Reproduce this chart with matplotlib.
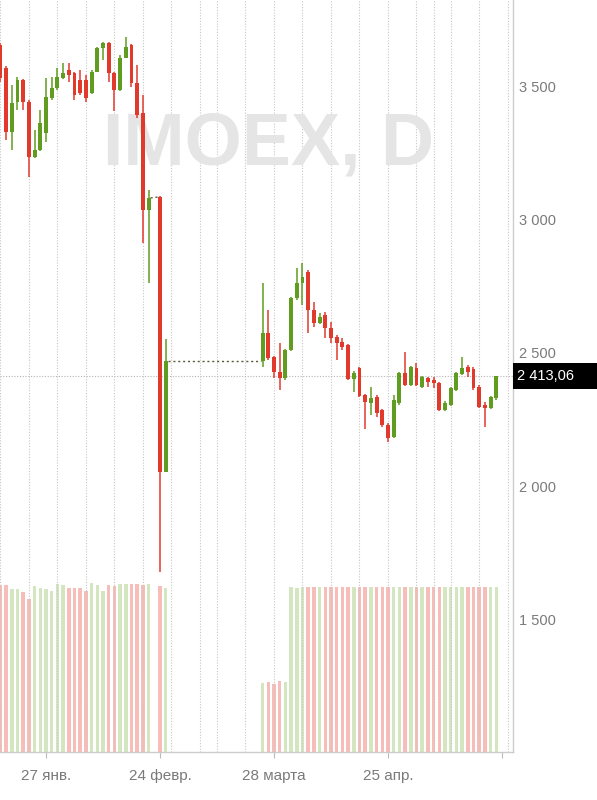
import numpy as np
import pandas as pd
import matplotlib
matplotlib.use("Agg")
import matplotlib.pyplot as plt
from matplotlib.transforms import blended_transform_factory
from matplotlib.patches import Rectangle

plt.rcParams['font.family'] = ['Liberation Sans', 'DejaVu Sans']

## Data: IMOEX daily candles
# exchange calendar: weekdays minus holidays (Feb 23 keeps a slot but had no trading)
holidays = ['2022-03-07', '2022-03-08', '2022-05-02', '2022-05-03', '2022-05-09', '2022-05-10']
no_trade = ['2022-02-23']
periods = [('2022-01-17', '2022-02-25'), ('2022-03-24', '2022-05-26')]

opens = [3654, 3567, 3328, 3440, 3522, 3440, 3234, 3260, 3324, 3455,
         3493, 3530, 3560, 3549, 3522, 3522, 3474, 3552, 3642, 3661,
         3549, 3485, 3605, 3654, 3511, 3399, 3036, 3084, 2054,
         2470, 2575, 2485, 2429, 2406, 2511, 2706, 2762, 2803, 2661,
         2612, 2642, 2594, 2560, 2541, 2530, 2403, 2444, 2343, 2313,
         2335, 2287, 2230, 2185, 2313, 2425, 2380, 2444, 2373, 2406,
         2399, 2388, 2287, 2305, 2362, 2421, 2448, 2440, 2373, 2305,
         2294, 2332]
highs = [3661, 3575, 3504, 3534, 3526, 3448, 3335, 3410, 3530, 3534,
         3567, 3586, 3586, 3552, 3560, 3541, 3560, 3646, 3665, 3665,
         3552, 3616, 3684, 3657, 3579, 3466, 3111, 3088, 2553,
         2762, 2661, 2489, 2537, 2515, 2710, 2818, 2837, 2811, 2691,
         2650, 2654, 2616, 2567, 2556, 2534, 2433, 2448, 2347, 2373,
         2343, 2290, 2238, 2343, 2429, 2504, 2451, 2463, 2414, 2410,
         2410, 2391, 2320, 2373, 2429, 2485, 2455, 2448, 2380, 2317,
         2339, 2414]
lows = [3515, 3298, 3260, 3410, 3410, 3159, 3230, 3257, 3290, 3448,
        3485, 3526, 3515, 3448, 3466, 3440, 3470, 3552, 3597, 3515,
        3406, 3481, 3605, 3496, 3380, 2912, 2762, 1680, 2054,
        2448, 2474, 2406, 2362, 2399, 2507, 2699, 2680, 2575, 2597,
        2609, 2556, 2537, 2474, 2511, 2399, 2354, 2335, 2215, 2268,
        2260, 2223, 2167, 2182, 2305, 2377, 2377, 2377, 2369, 2373,
        2369, 2283, 2283, 2302, 2358, 2418, 2410, 2362, 2294, 2223,
        2290, 2324]
closes = [3530, 3328, 3436, 3522, 3440, 3234, 3260, 3361, 3459, 3493,
          3534, 3549, 3541, 3466, 3474, 3455, 3552, 3642, 3661, 3549,
          3485, 3605, 3646, 3511, 3391, 3036, 3081, 2054, 2470,
          2575, 2481, 2429, 2406, 2511, 2706, 2762, 2785, 2661, 2612,
          2635, 2594, 2556, 2537, 2523, 2403, 2425, 2339, 2317, 2332,
          2275, 2230, 2182, 2324, 2425, 2380, 2448, 2380, 2410, 2391,
          2388, 2287, 2313, 2369, 2425, 2444, 2429, 2369, 2298, 2294,
          2335, 2413.06]
# volume (relative, most bars hit the panel cap)
volume = [167, 167, 163, 163, 160, 153, 166, 164, 163, 161,
          168, 167, 164, 164, 164, 161, 169, 167, 161, 167,
          166, 168, 168, 168, 168, 167, 168, 166, 164,
          69, 70, 68, 71, 70, 165, 164, 165, 165, 165,
          165, 165, 165, 165, 165, 165, 165, 165, 165, 165,
          165, 165, 165, 165, 165, 165, 165, 165, 165, 165,
          165, 165, 165, 165, 165, 165, 165, 165, 165, 165,
          165, 165]

last_price = 2413.06
price_ticks = [1500, 2000, 2500, 3000, 3500]
price_labels = ['1 500', '2 000', '2 500', '3 000', '3 500']
date_ticks = ['2022-01-27', '2022-02-24', '2022-03-28', '2022-04-25', '2022-05-27']
date_labels = ['27 янв.', '24 февр.', '28 марта', '25 апр.', '']

# bar slots on the exchange calendar, Feb 24 = 0
ref = np.datetime64('2022-02-24')
days = pd.DatetimeIndex([])
for a, b in periods:
    days = days.append(pd.bdate_range(a, b))
days = days[~days.isin(pd.to_datetime(holidays + no_trade))]
x = np.busday_count(ref, days.values.astype('datetime64[D]'), holidays=holidays)

o = np.array(opens, float)
h = np.array(highs, float)
l = np.array(lows, float)
c = np.array(closes, float)
up = c >= o

red = '#e2392d'
green = '#5f9c20'
candle_col = np.where(up, green, red)
vol_col = np.where(up, '#d3e6bf', '#f7bdb8')

# first trading day of each week -> vertical grid
cal = pd.bdate_range('2022-01-10', '2022-06-10')
cal = cal[~cal.isin(pd.to_datetime(holidays))]
wk = cal.isocalendar().week.values
week_start = cal[np.r_[True, wk[1:] != wk[:-1]]]
grid_x = np.busday_count(ref, week_start.values.astype('datetime64[D]'), holidays=holidays)
tick_x = np.busday_count(ref, np.array(date_ticks, dtype='datetime64[D]'), holidays=holidays)

## Figure
fig = plt.figure(figsize=(5.97, 8), dpi=100)
ax_v = fig.add_axes([0, 48/800, 513/597, 752/800])
ax_p = ax_v.twinx()

x_lo, x_hi = -28.07, 61.93

# volume panel
ax_v.bar(x, volume, width=0.6, color=vol_col, linewidth=0)
ax_v.set_ylim(0, max(volume) / 0.225)
ax_v.set_xlim(x_lo, x_hi)
ax_v.set_yticks([])
ax_v.set_xticks(tick_x)
ax_v.set_xticklabels(date_labels)
ax_v.tick_params(axis='x', length=4, width=0.8, color='#bbbbbb', pad=8,
                 labelsize=11, labelcolor='#7a7a7a')
for s in ['top', 'left']:
    ax_v.spines[s].set_visible(False)
for s in ['bottom', 'right']:
    ax_v.spines[s].set_color('#cccccc')
    ax_v.spines[s].set_linewidth(1)

# grid
for gx in grid_x:
    if x_lo <= gx <= x_hi:
        ax_p.axvline(gx, color='#c6c6c6', lw=0.8, ls=(0, (1, 1.5)), zorder=0)
ax_p.axhline(last_price, color='#b5b5b5', lw=0.8, ls=(0, (1, 1.5)), zorder=1)

# watermark
ax_p.text(103/597, 1 - 165/800, 'IMOEX, D', transform=fig.transFigure,
          fontsize=53, fontweight='bold', color='#e5e5e5',
          ha='left', va='baseline', zorder=1)

# candles
ax_p.vlines(x, l, h, color=candle_col, lw=1.1, zorder=3)
body = np.maximum(np.abs(c - o), 6)
ax_p.bar(x, body, bottom=np.minimum(o, c), width=0.68, color=candle_col,
         linewidth=0, zorder=4)

# dotted connectors across gaps in trading
for i in range(1, len(x)):
    if x[i] - x[i-1] > 1:
        ax_p.plot([x[i-1] + 0.35, x[i] - 0.35], [c[i-1], o[i]],
                  color='#5a5a3a', lw=1, ls=(0, (1.5, 2)), zorder=2)

ax_p.set_ylim(1005.6, 3822.1)
ax_p.set_xlim(x_lo, x_hi)
ax_p.set_yticks(price_ticks)
ax_p.set_yticklabels(price_labels)
ax_p.tick_params(axis='y', length=0, pad=4, labelsize=10.5, labelcolor='#7a7a7a')
for s in ax_p.spines.values():
    s.set_visible(False)

# last price tag
trans = blended_transform_factory(fig.transFigure, ax_p.transData)
ax_p.add_patch(Rectangle((513/597, last_price - 48), 84/597, 96, transform=trans,
                         facecolor='black', edgecolor='none', clip_on=False, zorder=10))
ax_p.text(517/597, last_price, '2 413,06', transform=trans, color='white',
          fontsize=10.5, ha='left', va='center', clip_on=False, zorder=11)

fig.savefig('out.png', dpi=100)
